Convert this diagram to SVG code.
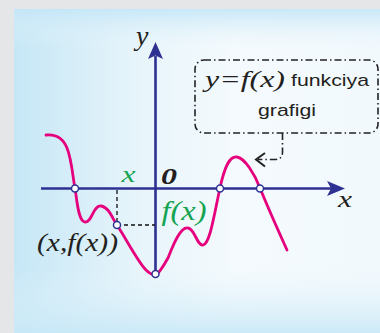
<svg xmlns="http://www.w3.org/2000/svg" width="380" height="333" viewBox="0 0 380 333">
<defs>
<linearGradient id="bgH" x1="0" y1="0" x2="1" y2="0">
<stop offset="0" stop-color="#c6e7f6"/>
<stop offset="0.35" stop-color="#e8f5fb"/>
<stop offset="0.6" stop-color="#f4fafd"/>
<stop offset="1" stop-color="#f2f9fd"/>
</linearGradient>
<linearGradient id="bgV" x1="0" y1="0" x2="0" y2="1">
<stop offset="0" stop-color="#c4e6f7" stop-opacity="0.9"/>
<stop offset="0.12" stop-color="#e6f4fb" stop-opacity="0"/>
<stop offset="0.8" stop-color="#e6f4fb" stop-opacity="0"/>
<stop offset="1" stop-color="#c8e8f7" stop-opacity="0.9"/>
</linearGradient>
<style>
.ax{stroke:#2e3192;stroke-width:2.6;fill:none}
.axh{fill:#2e3192}
.curve{stroke:#e6007e;stroke-width:2.8;fill:none;stroke-linecap:round}
.pt{fill:#fff;stroke:#2e3192;stroke-width:1.5}
.dash{stroke:#111;stroke-width:1.3;stroke-dasharray:4 3;fill:none}
.math{font-family:"Liberation Serif","Times New Roman",serif;font-style:italic}
.sans{font-family:"Liberation Sans",Arial,sans-serif;fill:#231f20}
.dk{fill:#231f20}
.gr{fill:#14a452}
.dd{stroke:#222;stroke-width:1.6;fill:none;stroke-dasharray:7 3 1.5 3}
</style>
</defs>
<rect width="380" height="333" fill="#e5e6e8"/>
<rect x="14" y="9" width="366" height="324" fill="url(#bgH)"/>
<rect x="14" y="9" width="366" height="324" fill="url(#bgV)"/>

<g id="axes">
<line class="ax" x1="41" y1="188.5" x2="331" y2="188.5"/>
<polygon class="axh" points="345,188.5 327,181 331,188.5 327,196"/>
<line class="ax" x1="155.5" y1="277" x2="155.5" y2="56"/>
<polygon class="axh" points="155.5,42 148,59 155.5,55.5 163,59"/>
<text class="math dk" x="136" y="45" font-size="28">y</text>
<text class="math dk" x="338" y="206.5" font-size="24" textLength="14" lengthAdjust="spacingAndGlyphs">x</text>
<text class="math dk" x="161" y="183.5" font-size="24" font-weight="bold" textLength="16" lengthAdjust="spacingAndGlyphs">0</text>
</g>

<g id="guides">
<polyline class="dash" points="117,190 117,225 155,225"/>
</g>

<g id="graph">
<path class="curve" d="M46,135 C56,134 63,138 67,148 C72,160 73,180 75,188 C77,200 78,221 85,222 C92,223 93,205 101,206 C109,207 112,218 117,225 C128,242 138,262 146,270 C151,275 155,276 158,273 C162,269 165,263 168,258 C172,248 180,226 188,228 C195,229 197,246 203,245 C210,244 214,215 220,188 C225,165 230,156 237,157 C245,158 255,175 260,188 C268,208 278,230 287,250"/>
<circle class="pt" cx="75" cy="188.5" r="3.5"/>
<circle class="pt" cx="117" cy="225" r="3.5"/>
<circle class="pt" cx="155.5" cy="274" r="3.5"/>
<circle class="pt" cx="220" cy="188.5" r="3.5"/>
<circle class="pt" cx="260" cy="188.5" r="3.5"/>
</g>

<g id="labels">
<text class="math gr" x="121.5" y="182" font-size="24" textLength="14" lengthAdjust="spacingAndGlyphs">x</text>
<text class="math gr" x="161.5" y="219.5" font-size="27" textLength="45" lengthAdjust="spacingAndGlyphs">f(x)</text>
<text class="math dk" x="37" y="251" font-size="26" textLength="81" lengthAdjust="spacingAndGlyphs">(x,f(x))</text>
</g>

<g id="callout">
<rect class="dd" x="195" y="60" width="183" height="73" rx="9"/>
<text class="math dk" x="205" y="86.5" font-size="24" textLength="80" lengthAdjust="spacingAndGlyphs">y=f(x)</text>
<text class="sans" x="291" y="86" font-size="17" textLength="78" lengthAdjust="spacingAndGlyphs">funkciya</text>
<text class="sans" x="258" y="116" font-size="17" textLength="58" lengthAdjust="spacingAndGlyphs">grafigi</text>
</g>

<g id="connectors">
<path class="dd" d="M282.5,133 L282.5,152 Q282.5,159.5 275,159.5 L258,159.5"/>
<polyline points="265,153 256,159.5 265,166.5" fill="none" stroke="#222" stroke-width="2"/>
</g>
</svg>
